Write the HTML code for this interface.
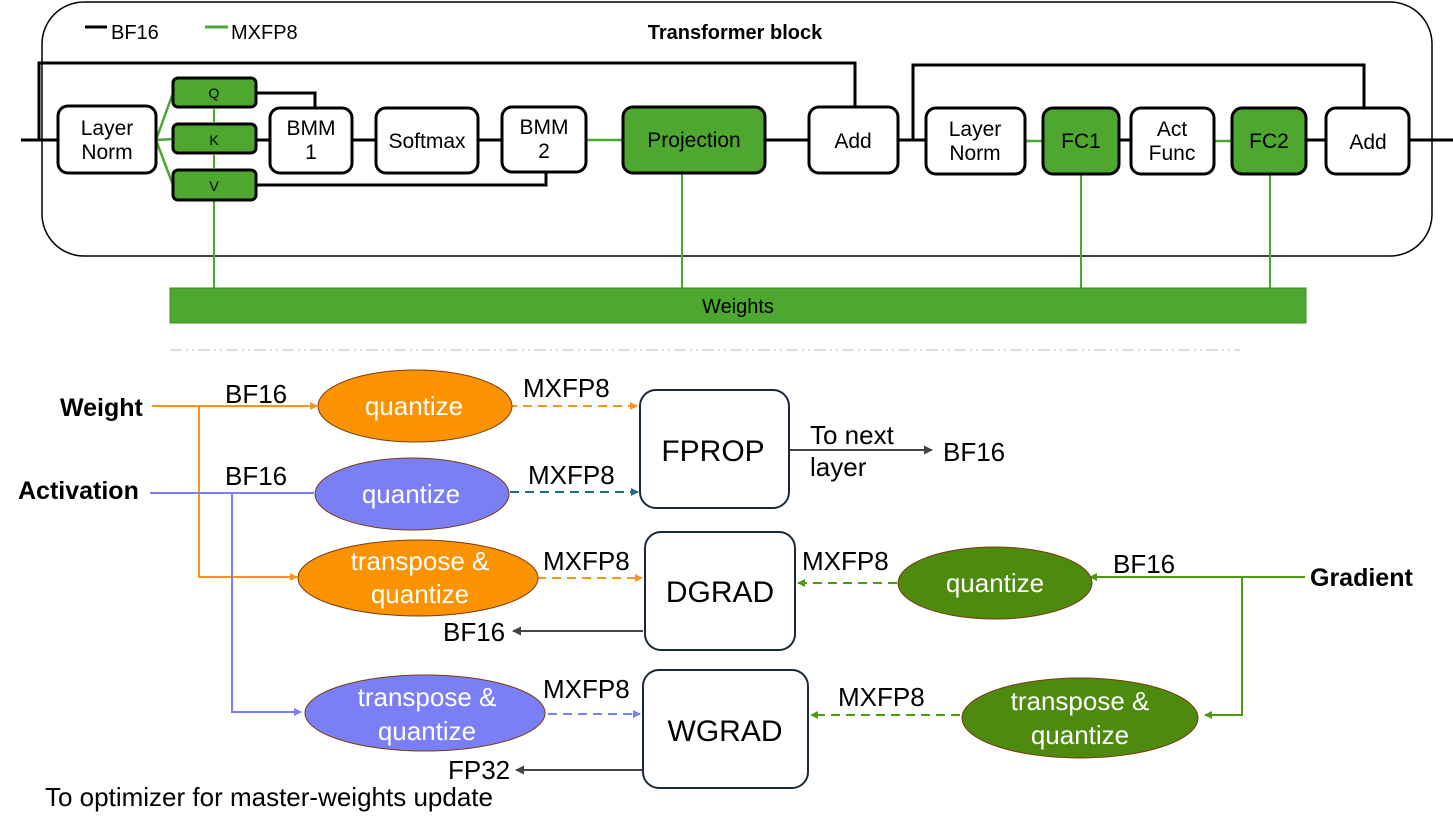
<!DOCTYPE html>
<html><head><meta charset="utf-8"><style>
html,body{margin:0;padding:0;background:#fff;}
svg{display:block;font-family:"Liberation Sans",sans-serif;}
</style></head><body>
<svg width="1453" height="829" viewBox="0 0 1453 829" xmlns="http://www.w3.org/2000/svg">
<defs>
<marker id="ao" markerWidth="8" markerHeight="8" refX="7" refY="4" orient="auto" markerUnits="userSpaceOnUse"><path d="M0,0 L8,4 L0,8 z" fill="#f7941d"/></marker>
<marker id="ap" markerWidth="8" markerHeight="8" refX="7" refY="4" orient="auto" markerUnits="userSpaceOnUse"><path d="M0,0 L8,4 L0,8 z" fill="#7b7ff5"/></marker>
<marker id="at" markerWidth="8" markerHeight="8" refX="7" refY="4" orient="auto" markerUnits="userSpaceOnUse"><path d="M0,0 L8,4 L0,8 z" fill="#1f6a8a"/></marker>
<marker id="ag" markerWidth="8" markerHeight="8" refX="7" refY="4" orient="auto" markerUnits="userSpaceOnUse"><path d="M0,0 L8,4 L0,8 z" fill="#4e9a0e"/></marker>
<marker id="ak" markerWidth="9" markerHeight="9" refX="8" refY="4.5" orient="auto" markerUnits="userSpaceOnUse"><path d="M0,0 L9,4.5 L0,9 z" fill="#444"/></marker>
</defs>

<!-- Top section -->
<rect x="42" y="2" width="1390" height="254" rx="42" fill="none" stroke="#000" stroke-width="1.5"/>
<line x1="85" y1="27" x2="107" y2="27" stroke="#000" stroke-width="3"/>
<text x="111" y="39" font-size="20">BF16</text>
<line x1="205" y1="27" x2="228" y2="27" stroke="#4aa82f" stroke-width="3"/>
<text x="231" y="39" font-size="20">MXFP8</text>
<text x="735" y="39" font-size="20" font-weight="bold" text-anchor="middle">Transformer block</text>

<!-- black lines -->
<g stroke="#000" stroke-width="3" fill="none">
<line x1="21" y1="140" x2="58" y2="140"/>
<polyline points="39,140 39,63 855,63 855,107"/>
<polyline points="256,93 315,93 315,108"/>
<line x1="256" y1="140" x2="270" y2="140"/>
<line x1="352" y1="140" x2="376" y2="140"/>
<line x1="478" y1="140" x2="502" y2="140"/>
<polyline points="256,185 546,185 546,172"/>
<line x1="765" y1="140" x2="809" y2="140"/>
<line x1="898" y1="140" x2="926" y2="140"/>
<polyline points="913,140 913,65 1364,65 1364,108"/>
<line x1="1119" y1="140" x2="1131" y2="140"/>
<line x1="1306" y1="140" x2="1326" y2="140"/>
<line x1="1409" y1="140" x2="1453" y2="140"/>
</g>
<!-- green lines -->
<g stroke="#4aa82f" stroke-width="2.5" fill="none">
<line x1="156" y1="140" x2="173" y2="93"/>
<line x1="156" y1="140" x2="173" y2="139"/>
<line x1="156" y1="140" x2="173" y2="185"/>
<line x1="586" y1="140" x2="623" y2="140"/>
<line x1="1025" y1="141" x2="1043" y2="141"/>
<line x1="1214" y1="141" x2="1232" y2="141"/>
</g>
<g stroke="#4aa82f" stroke-width="2" fill="none">
<line x1="214" y1="107" x2="214" y2="288"/>
<line x1="682" y1="173" x2="682" y2="288"/>
<line x1="1081" y1="174" x2="1081" y2="288"/>
<line x1="1270" y1="174" x2="1270" y2="288"/>
</g>

<!-- boxes -->
<g stroke="#000" stroke-width="3">
<rect x="58" y="106" width="98" height="67" rx="10" fill="#fff"/>
<rect x="173" y="78" width="83" height="29" rx="5" fill="#4ea72e"/>
<rect x="173" y="124" width="83" height="29" rx="5" fill="#4ea72e"/>
<rect x="173" y="170" width="83" height="30" rx="5" fill="#4ea72e"/>
<rect x="270" y="108" width="82" height="65" rx="10" fill="#fff"/>
<rect x="376" y="108" width="102" height="65" rx="10" fill="#fff"/>
<rect x="502" y="107" width="84" height="65" rx="10" fill="#fff"/>
<rect x="623" y="107" width="142" height="66" rx="10" fill="#4ea72e"/>
<rect x="809" y="107" width="89" height="66" rx="10" fill="#fff"/>
<rect x="926" y="108" width="99" height="66" rx="10" fill="#fff"/>
<rect x="1043" y="108" width="76" height="66" rx="10" fill="#4ea72e"/>
<rect x="1131" y="108" width="83" height="66" rx="10" fill="#fff"/>
<rect x="1232" y="108" width="74" height="66" rx="10" fill="#4ea72e"/>
<rect x="1326" y="108" width="83" height="66" rx="10" fill="#fff"/>
</g>
<line x1="214" y1="108" x2="214" y2="123" stroke="#4aa82f" stroke-width="2"/>
<line x1="214" y1="154" x2="214" y2="169" stroke="#4aa82f" stroke-width="2"/>
<g font-size="21" text-anchor="middle" fill="#000">
<text x="107" y="135">Layer</text><text x="107" y="159">Norm</text>
<text x="214" y="98" font-size="14">Q</text>
<text x="214" y="145" font-size="14">K</text>
<text x="214" y="191" font-size="14">V</text>
<text x="311" y="135">BMM</text><text x="311" y="159">1</text>
<text x="427" y="148">Softmax</text>
<text x="544" y="134">BMM</text><text x="544" y="158">2</text>
<text x="694" y="147">Projection</text>
<text x="853" y="148">Add</text>
<text x="975" y="136">Layer</text><text x="975" y="160">Norm</text>
<text x="1081" y="148">FC1</text>
<text x="1172" y="136">Act</text><text x="1172" y="160">Func</text>
<text x="1269" y="148">FC2</text>
<text x="1368" y="149">Add</text>
</g>
<rect x="170" y="288" width="1136" height="35" fill="#4ea72e" stroke="#3e8f22" stroke-width="1"/>
<text x="738" y="313" font-size="20" text-anchor="middle">Weights</text>

<line x1="170" y1="350" x2="1240" y2="350" stroke="#ddd" stroke-width="2" stroke-dasharray="12,4,2,4,2,4"/>

<!-- Bottom section -->
<g font-size="26" fill="#000">
<text x="60" y="416" font-weight="bold" font-size="25">Weight</text>
<text x="18" y="499" font-weight="bold" font-size="25">Activation</text>
<text x="1310" y="586" font-weight="bold" font-size="25">Gradient</text>
<text x="225" y="403">BF16</text>
<text x="225" y="485">BF16</text>
<text x="523" y="397">MXFP8</text>
<text x="528" y="484">MXFP8</text>
<text x="543" y="570">MXFP8</text>
<text x="543" y="698">MXFP8</text>
<text x="802" y="570">MXFP8</text>
<text x="838" y="706">MXFP8</text>
<text x="1113" y="573">BF16</text>
<text x="810" y="444">To next</text>
<text x="810" y="476">layer</text>
<text x="943" y="461">BF16</text>
<text x="443" y="641">BF16</text>
<text x="448" y="779">FP32</text>
<text x="45" y="806">To optimizer for master-weights update</text>
</g>

<!-- orange paths -->
<g stroke="#f7941d" stroke-width="2" fill="none">
<line x1="152" y1="406" x2="317" y2="406" marker-end="url(#ao)"/>
<polyline points="199,406 199,577 297,577" marker-end="url(#ao)"/>
<line x1="508" y1="406" x2="637" y2="406" stroke-dasharray="9,6" marker-end="url(#ao)"/>
<line x1="537" y1="578" x2="642" y2="578" stroke-dasharray="9,6" marker-end="url(#ao)"/>
</g>
<g stroke="#7b7ff5" stroke-width="2" fill="none">
<line x1="150" y1="493" x2="314" y2="493"/>
<polyline points="232,493 232,712 301,712" marker-end="url(#ap)"/>
<line x1="548" y1="714" x2="640" y2="714" stroke-dasharray="9,6" marker-end="url(#ap)"/>
</g>
<line x1="510" y1="492" x2="638" y2="492" stroke="#1f6a8a" stroke-width="2" stroke-dasharray="9,6" fill="none" marker-end="url(#at)"/>
<g stroke="#4e9a0e" stroke-width="2" fill="none">
<line x1="1305" y1="577" x2="1090" y2="577" marker-end="url(#ag)"/>
<polyline points="1242,577 1242,715 1205,715" marker-end="url(#ag)"/>
<line x1="897" y1="583" x2="798" y2="583" stroke-dasharray="9,6" marker-end="url(#ag)"/>
<line x1="960" y1="715" x2="811" y2="715" stroke-dasharray="9,6" marker-end="url(#ag)"/>
</g>
<g stroke="#444" stroke-width="2" fill="none">
<line x1="789" y1="450" x2="932" y2="450" marker-end="url(#ak)"/>
<line x1="643" y1="631" x2="513" y2="631" marker-end="url(#ak)"/>
<line x1="643" y1="770" x2="516" y2="770" marker-end="url(#ak)"/>
</g>

<!-- ellipses -->
<g stroke="#7a3a10" stroke-width="1">
<ellipse cx="415" cy="406" rx="97" ry="36" fill="#fb9300"/>
<ellipse cx="412" cy="494" rx="97" ry="36" fill="#7b7ff5"/>
<ellipse cx="418" cy="578" rx="120" ry="38" fill="#fb9300"/>
<ellipse cx="425" cy="713" rx="120" ry="38" fill="#7b7ff5"/>
<ellipse cx="995" cy="583" rx="97" ry="36" fill="#4e8a0e"/>
<ellipse cx="1080" cy="718" rx="118" ry="40" fill="#4e8a0e"/>
</g>
<g font-size="26" fill="#fff" text-anchor="middle">
<text x="414" y="415">quantize</text>
<text x="411" y="503">quantize</text>
<text x="420" y="570">transpose &amp;</text><text x="420" y="603">quantize</text>
<text x="427" y="706">transpose &amp;</text><text x="427" y="740">quantize</text>
<text x="995" y="592">quantize</text>
<text x="1080" y="710">transpose &amp;</text><text x="1080" y="744">quantize</text>
</g>

<!-- compute boxes -->
<g stroke="#1a2a3a" stroke-width="2" fill="#fff">
<rect x="640" y="390" width="149" height="118" rx="16"/>
<rect x="645" y="532" width="150" height="118" rx="16"/>
<rect x="643" y="670" width="165" height="118" rx="16"/>
</g>
<g font-size="30" text-anchor="middle" fill="#000">
<text x="713" y="461">FPROP</text>
<text x="720" y="602">DGRAD</text>
<text x="725" y="741">WGRAD</text>
</g>
</svg>
</body></html>
